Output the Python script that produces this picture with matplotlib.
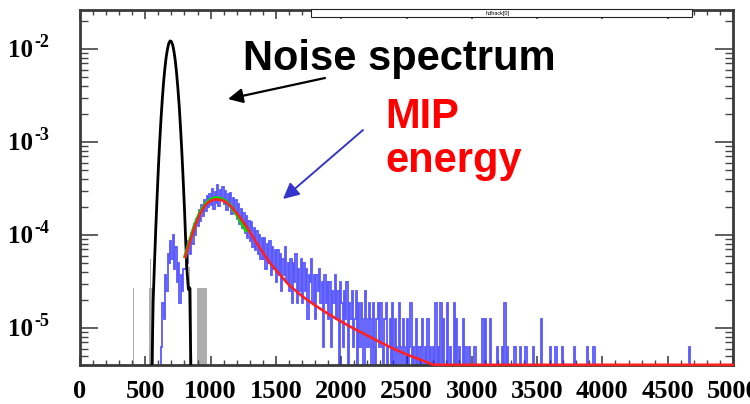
import numpy as np
import matplotlib
matplotlib.use("Agg")
import matplotlib.pyplot as plt
from matplotlib.patches import Rectangle
from matplotlib.ticker import FixedLocator, NullFormatter
from matplotlib.transforms import blended_transform_factory, offset_copy

# ---------------- data ----------------
x_ticks = [0, 500, 1000, 1500, 2000, 2500, 3000, 3500, 4000, 4500, 5000]
x_tick_labels = [str(v) for v in x_ticks]
y_ticks = [1e-5, 1e-4, 1e-3, 1e-2]
y_tick_base = ['10', '10', '10', '10']
y_tick_exp = ['-5', '-4', '-3', '-2']

# Noise spectrum (black)
noise_x = [550, 560, 570, 580, 590, 600, 610, 620, 630, 640, 650, 660, 670, 680,
           690, 700, 710, 720, 730, 740, 750, 760, 770, 780, 790, 800, 810, 820,
           830, 840, 850]
noise_y = [3e-6, 1.9e-5, 4.8e-5, 1.15e-4, 2.5e-4, 5.2e-4, 9.9e-4, 1.74e-3,
           2.86e-3, 4.4e-3, 6.2e-3, 8.2e-3, 1.0e-2, 1.15e-2, 1.22e-2, 1.2e-2,
           1.1e-2, 9.3e-3, 7.4e-3, 5.4e-3, 3.7e-3, 2.4e-3, 1.4e-3, 7.7e-4,
           3.9e-4, 1.9e-4, 8.2e-5, 4.0e-5, 2.6e-5, 2.7e-5, 3e-6]
# isolated low-count bins of the noise histogram
noise_spike_x = [410, 530, 540, 550, 560, 840, 850, 900, 910, 920, 930, 940, 950, 960, 970]
noise_spike_y = [2.7e-5, 2.7e-5, 5.5e-5, 2.7e-5, 2.7e-5, 4.5e-5, 2.7e-5,
                 2.7e-5, 2.7e-5, 2.7e-5, 2.7e-5, 2.7e-5, 2.7e-5, 2.7e-5, 2.7e-5]

# MIP spectrum (blue): counts per 10-unit bin starting at 600
mip_bin_start = 600
mip_bin_width = 10
mip_count_unit = 6.2e-6
mip_counts = [
    0, 0, 1, 3, 2, 6, 4, 10, 8, 14,           # 600
    9, 16, 7, 12, 5, 8, 3, 6, 4, 7,           # 700
    7, 11, 8, 14, 10, 17, 13, 21, 16, 24,     # 800
    20, 30, 23, 34, 26, 38, 29, 42, 32, 45,   # 900
    34, 50, 31, 47, 36, 56, 33, 49, 38, 53,   # 1000
    35, 48, 30, 44, 33, 46, 27, 40, 29, 38,   # 1100
    24, 35, 21, 31, 19, 28, 17, 26, 15, 23,   # 1200
    14, 22, 12, 19, 11, 18, 10, 16, 9, 15,    # 1300
    9, 15, 7, 13, 8, 14, 6, 12, 7, 11,        # 1400
    5, 11, 6, 10, 4, 9, 6, 12, 5, 8,          # 1500
    4, 9, 3, 8, 5, 10, 3, 7, 4, 9,            # 1600
    3, 8, 4, 7, 2, 6, 5, 9, 3, 6,             # 1700
    2, 6, 4, 7, 3, 5, 1, 6, 3, 5,             # 1800
    2, 5, 1, 4, 3, 6, 2, 4, 0, 5,             # 1900
    3, 1, 4, 2, 5, 0, 3, 2, 4, 1,             # 2000
    2, 4, 0, 3, 1, 3, 2, 0, 4, 2,             # 2100
    1, 3, 2, 0, 3, 1, 0, 2, 3, 1,             # 2200
    3, 1, 0, 2, 3, 0, 1, 2, 0, 3,             # 2300
    0, 2, 1, 0, 3, 1, 0, 2, 1, 0,             # 2400
    2, 0, 1, 3, 0, 1, 0, 2, 0, 1,             # 2500
    0, 1, 2, 0, 1, 0, 2, 0, 1, 0,             # 2600
    1, 0, 3, 0, 1, 0, 3, 0, 2, 0,             # 2700
    0, 3, 0, 1, 0, 0, 3, 0, 2, 0,             # 2800
    1, 0, 0, 2, 0, 1, 0, 0, 1, 0,             # 2900
]
mip_tail_x = [3020, 3080, 3100, 3140, 3190, 3230, 3250, 3270, 3320, 3330, 3370,
              3410, 3470, 3530, 3600, 3640, 3690, 3780, 3880, 3930, 4660]
mip_tail_n = [1, 2, 2, 2, 1, 1, 3, 1, 1, 1, 1, 1, 1, 2, 1, 1, 1, 1, 1, 1, 1]

# Landau fit (red)
fit_x = [805, 840, 880, 920, 960, 1000, 1040, 1080, 1120, 1160, 1200, 1250,
         1300, 1350, 1400, 1450, 1500, 1600, 1700, 1800, 1900, 2000, 2100,
         2200, 2300, 2400, 2500, 2600, 2700, 2720, 5000]
fit_y = [5.8e-5, 8.3e-5, 1.25e-4, 1.7e-4, 2.1e-4, 2.33e-4, 2.42e-4, 2.38e-4,
         2.25e-4, 2.0e-4, 1.72e-4, 1.38e-4, 1.08e-4, 8.3e-5, 6.5e-5, 5.1e-5,
         4.2e-5, 2.9e-5, 2.2e-5, 1.75e-5, 1.42e-5, 1.17e-5, 9.8e-6, 8.3e-6,
         7.0e-6, 6.0e-6, 5.2e-6, 4.6e-6, 4.05e-6, 3.0e-6, 3.0e-6]
# fit in restricted range (green)
fit2_x = [805, 840, 880, 920, 960, 1000, 1040, 1080, 1120, 1160, 1200, 1240, 1270]
fit2_y = [5.9e-5, 8.6e-5, 1.3e-4, 1.76e-4, 2.15e-4, 2.4e-4, 2.5e-4, 2.45e-4,
          2.28e-4, 2.0e-4, 1.66e-4, 1.33e-4, 1.12e-4]

# ---------------- figure ----------------
W, H = 750, 404
fig = plt.figure(figsize=(W / 100, H / 100), dpi=100, facecolor='white')
ax = fig.add_axes([80 / W, 39 / H, (733 - 80) / W, (365 - 10) / H])
ax.set_yscale('log')
YMIN, YMAX = 4.0e-6, 2.62e-2
ax.set_xlim(0, 5000)
ax.set_ylim(YMIN, YMAX)

# blue MIP histogram
nb = int((5000 - mip_bin_start) / mip_bin_width)
edges = mip_bin_start + mip_bin_width * np.arange(nb + 1)
counts = np.zeros(nb)
counts[:len(mip_counts)] = mip_counts
for xv, n in zip(mip_tail_x, mip_tail_n):
    counts[int((xv - mip_bin_start) // mip_bin_width)] = n
vals = np.where(counts > 0, counts * mip_count_unit, 1e-8)
ax.stairs(vals, edges, baseline=None, color='#1a1aff', alpha=0.72, lw=1.3, zorder=2)

# noise spikes and spectrum
ax.bar(noise_spike_x, np.array(noise_spike_y) - YMIN, bottom=YMIN, width=10,
       color='0.68', zorder=1.5)
ax.plot(noise_x, noise_y, color='black', lw=2.0, zorder=4)

# fits
ax.plot(fit2_x, fit2_y, color='#00dd00', lw=2.6, zorder=5)
ax.plot(fit_x, np.clip(fit_y, YMIN * 1.005, None), color='#ff2020', lw=1.9,
        zorder=6, clip_on=False)

# axes style
for s in ax.spines.values():
    s.set_color('#3a3a3a')
    s.set_linewidth(2.0)
ax.xaxis.set_major_locator(FixedLocator(x_ticks))
ax.xaxis.set_minor_locator(FixedLocator(np.arange(0, 5001, 100)))
ax.set_xticklabels(x_tick_labels)
ax.yaxis.set_major_locator(FixedLocator(y_ticks))
minors = [m * 10.0 ** e for e in range(-6, -1) for m in range(2, 10)]
ax.yaxis.set_minor_locator(FixedLocator(minors))
ax.yaxis.set_minor_formatter(NullFormatter())
ax.yaxis.set_major_formatter(NullFormatter())

ax.tick_params(axis='both', which='both', direction='in', top=True, right=True,
               color='#444444')
ax.tick_params(axis='y', which='major', length=13, width=1.2)
ax.tick_params(axis='y', which='minor', length=6, width=1.0)
ax.tick_params(axis='x', which='major', length=6.5, width=1.2, pad=11, labelsize=19)
ax.tick_params(axis='x', which='minor', length=3.6, width=1.0)
for lab in ax.get_xticklabels():
    lab.set_family('Liberation Serif')
    lab.set_fontweight('bold')

# y tick labels: "10" with raised exponent
blend = blended_transform_factory(ax.transAxes, ax.transData)
tr_base = offset_copy(blend, fig=fig, x=0, y=-8.5 * 0.72, units='points')
tr_exp = offset_copy(blend, fig=fig, x=0, y=1.5 * 0.72, units='points')
for v, b, e in zip(y_ticks, y_tick_base, y_tick_exp):
    ax.text((33 - 80) / 653, v, b, transform=tr_base, ha='right', va='baseline',
            fontsize=18, fontweight='bold', family='Liberation Serif', clip_on=False)
    ax.text((34 - 80) / 653, v, e, transform=tr_exp, ha='left', va='baseline',
            fontsize=13, fontweight='bold', family='Liberation Serif', clip_on=False)

# title box
fig.add_artist(Rectangle((311 / W, 1 - 17 / H), (692 - 311) / W, 8 / H,
                         transform=fig.transFigure, facecolor='white',
                         edgecolor='#222222', lw=0.8, zorder=10))
fig.text(498 / W, 1 - 13.2 / H, 'hdhack[0]', fontsize=4, ha='center', va='center',
         family='Liberation Sans', zorder=11)

# annotations
fig.text(243 / W, 1 - 70 / H, 'Noise spectrum', fontsize=30, fontweight='bold',
         family='Liberation Sans', color='black', ha='left', va='baseline')
fig.text(385 / W, 1 - 128 / H, 'MIP', fontsize=30, fontweight='bold',
         family='Liberation Sans', color='#ff0000', ha='left', va='baseline')
fig.text(385 / W, 1 - 172 / H, 'energy', fontsize=30, fontweight='bold',
         family='Liberation Sans', color='#ff0000', ha='left', va='baseline')

ax.annotate('', xy=(228, H - 99), xycoords='figure pixels',
            xytext=(325, H - 78), textcoords='figure pixels',
            arrowprops=dict(arrowstyle='-|>', color='black', lw=1.6,
                            mutation_scale=22, shrinkA=0, shrinkB=0))
ax.annotate('', xy=(283, H - 199), xycoords='figure pixels',
            xytext=(363, H - 130), textcoords='figure pixels',
            arrowprops=dict(arrowstyle='-|>', color='#3535cc', lw=1.4,
                            mutation_scale=24, shrinkA=0, shrinkB=0))

fig.savefig('out.png', dpi=100, facecolor='white')
